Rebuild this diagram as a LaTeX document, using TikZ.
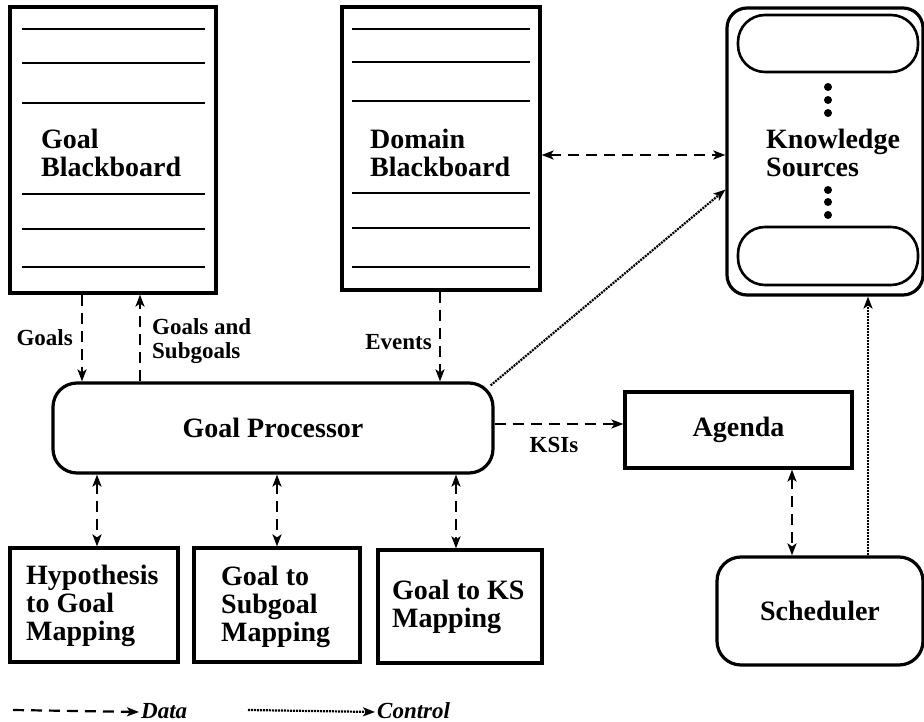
\documentclass[tikz,border=0pt]{standalone}
\usepackage{fontspec}
\setmainfont{Liberation Serif}
\usetikzlibrary{arrows.meta}
\begin{document}
\begin{tikzpicture}[x=1pt,y=-1pt,
  box/.style={draw,line width=3.2pt,inner sep=0pt},
  rbox/.style={box,rounded corners=24pt},
  main/.style={font=\fontsize{28}{28}\selectfont\bfseries,align=left,inner sep=0pt},
  lab/.style={font=\fontsize{23}{24}\selectfont\bfseries,align=left,inner sep=0pt},
  rule/.style={line width=2.6pt},
  tip/.style={-{Stealth[length=12pt,width=9pt,inset=3pt]}},
  bitip/.style={{Stealth[length=12pt,width=9pt,inset=3pt]}-{Stealth[length=12pt,width=9pt,inset=3pt]}},
  data/.style={line width=2.2pt,dash pattern=on 11pt off 7pt},
  ctrl/.style={line width=2.2pt,dash pattern=on 2pt off 1pt}
]
\useasboundingbox (0,0) rectangle (924,722);
% Goal blackboard
\node[box,minimum width=206pt,minimum height=286pt] (gb) at (113,150) {};
\foreach \yy in {29,63,103,194,229,267} \draw[rule] (22,\yy) -- (205,\yy);
\node[main,anchor=west] (gbt) at (41,153) {Goal\\Blackboard};
% Domain blackboard
\node[box,minimum width=198pt,minimum height=283pt] (db) at (441,148.5) {};
\foreach \yy in {29,62,101,193,228,267} \draw[rule] (352,\yy) -- (530,\yy);
\node[main,anchor=west] (dbt) at (370,153) {Domain\\Blackboard};
% Knowledge sources
\node[box,rounded corners=20pt,minimum width=196pt,minimum height=287pt] (ks) at (825,151.5) {};
\node[draw,line width=2.6pt,rounded corners=27pt,minimum width=180pt,minimum height=57pt] (ks1) at (828,43.5) {};
\node[draw,line width=2.6pt,rounded corners=27pt,minimum width=180pt,minimum height=58pt] (ks2) at (828,256) {};
\node[main,anchor=west] (kst) at (766,153) {Knowledge\\Sources};
\foreach \yy in {87,100,113,190,202,215} \fill (828,\yy) circle (4pt);
% Goal processor
\node[rbox,minimum width=440pt,minimum height=90pt,main,align=center] (gp) at (273,428) {Goal Processor};
% Agenda
\node[box,minimum width=227pt,minimum height=76pt,main,align=center] (ag) at (738.5,430) {Agenda};
% Scheduler
\node[rbox,minimum width=206pt,minimum height=108pt,main,align=center] (sc) at (820,611) {Scheduler};
% Bottom boxes
\node[box,minimum width=168pt,minimum height=114pt] (b1) at (94,605) {};
\node[main,anchor=west] (b1t) at (26,606) {Hypothesis\\to Goal\\Mapping};
\node[box,minimum width=166pt,minimum height=114pt] (b2) at (277,605) {};
\node[main,anchor=west] (b2t) at (221,607) {Goal to\\Subgoal\\Mapping};
\node[box,minimum width=164pt,minimum height=113pt] (b3) at (460,606.5) {};
\node[main,anchor=west] (b3t) at (392,607) {Goal to KS\\Mapping};
% labels
\node[lab,anchor=east] (lgoals) at (73,338) {Goals};
\node[lab,anchor=west] (lgs) at (152,341) {Goals and\\Subgoals};
\node[lab,anchor=east] (lev) at (432,342) {Events};
\node[lab] (lksi) at (554,445) {KSIs};
% connectors
\draw[data,tip] ([xshift=-31pt]gb.south) -- ([xshift=-191pt]gp.north);
\draw[data,tip] ([xshift=-133pt]gp.north) -- ([xshift=27pt]gb.south);
\draw[data,tip] ([xshift=-1pt]db.south) -- ([xshift=167pt]gp.north);
\draw[data,bitip] ([yshift=-6.5pt]db.east) -- ([yshift=-3.5pt]ks.west);
\draw[ctrl,tip] ([xshift=-4pt,yshift=-4pt]gp.north east) -- ([yshift=-38pt]ks.west);
\draw[data,tip] ([yshift=4pt]gp.east) -- ([yshift=6pt]ag.west);
\draw[data,bitip] ([xshift=53.5pt]ag.south) -- ([xshift=-28pt]sc.north);
\draw[ctrl,tip] ([xshift=48pt]sc.north) -- ([xshift=43pt]ks.south);
\draw[data,bitip] ([xshift=-176pt]gp.south) -- ([xshift=3pt]b1.north);
\draw[data,bitip] ([xshift=4pt]gp.south) -- (b2.north);
\draw[data,bitip] ([xshift=183pt]gp.south) -- ([xshift=-4pt]b3.north);
% legend
\coordinate (l1) at (13,710);
\coordinate (l2) at (248,710);
\node[lab,anchor=west,font=\fontsize{23}{24}\selectfont\bfseries\itshape] (ldata) at (141,711) {Data};
\node[lab,anchor=west,font=\fontsize{23}{24}\selectfont\bfseries\itshape] (lctrl) at (377,711) {Control};
\draw[data,tip] (l1) -- ([xshift=-2pt,yshift=-1pt]ldata.west);
\draw[ctrl,tip] (l2) -- ([xshift=-2pt,yshift=-1pt]lctrl.west);
\end{tikzpicture}
\end{document}
